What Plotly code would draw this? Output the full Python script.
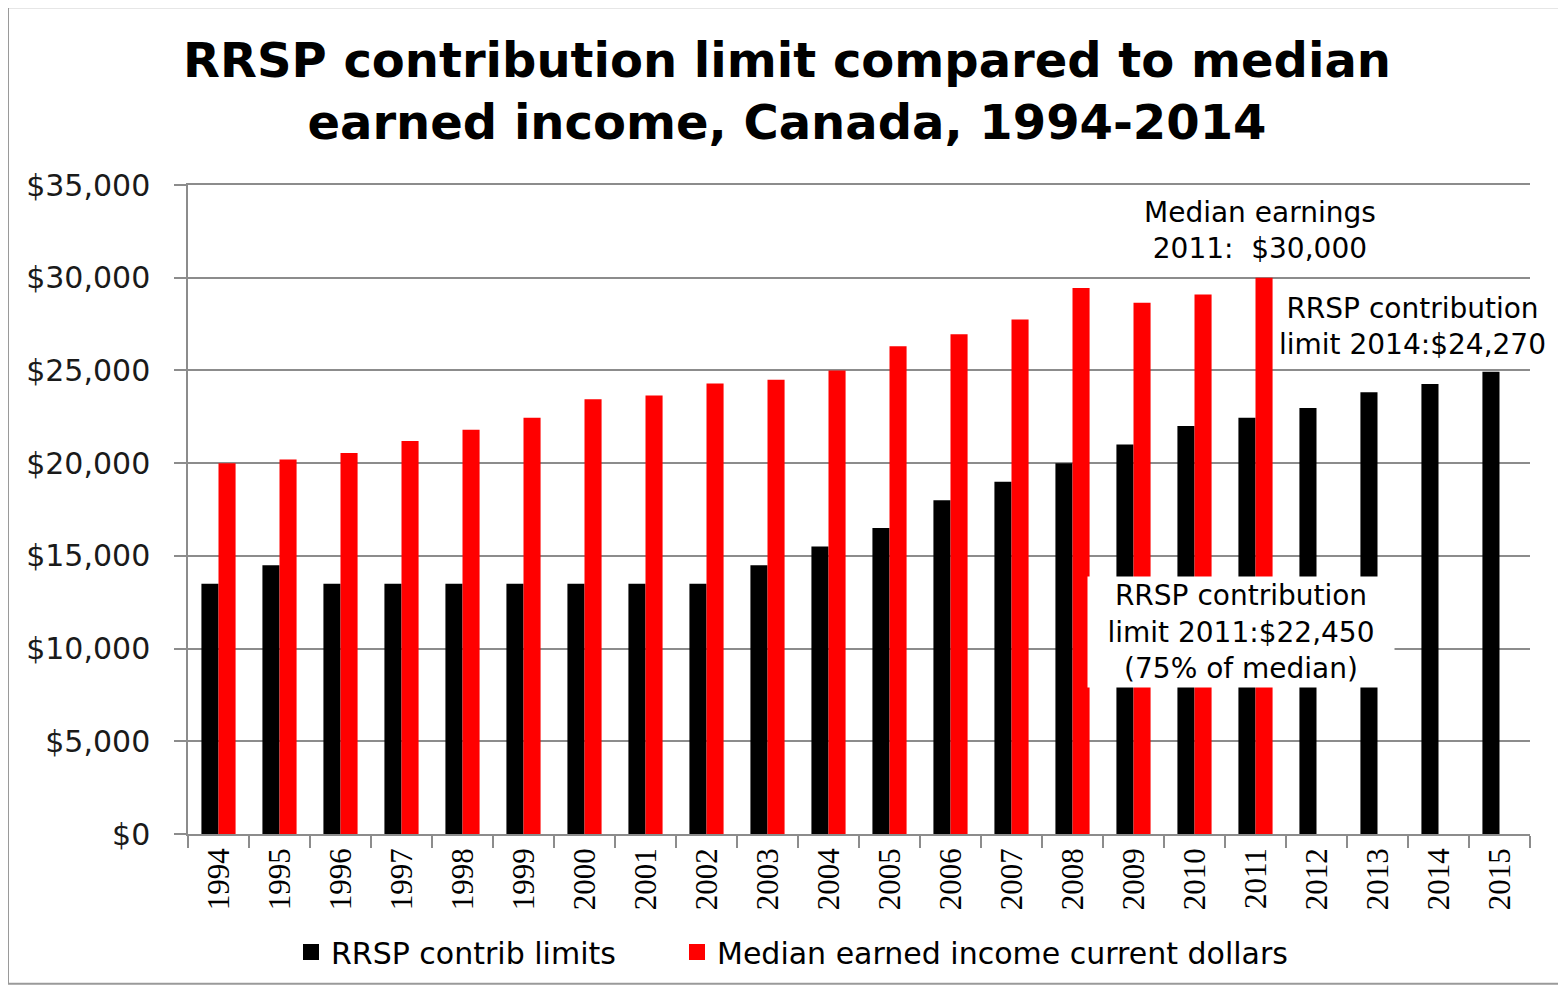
import plotly.graph_objects as go

years = [str(y) for y in range(1994, 2016)]
rrsp_limits = [13500, 14500, 13500, 13500, 13500, 13500, 13500, 13500, 13500, 14500,
               15500, 16500, 18000, 19000, 20000, 21000, 22000, 22450, 22970, 23820,
               24270, 24930]
median_years = [str(y) for y in range(1994, 2012)]
median_income = [20000, 20200, 20550, 21200, 21800, 22450, 23450, 23650, 24300, 24500,
                 25000, 26300, 26950, 27750, 29450, 28650, 29100, 30000]

series_names = ["RRSP contrib limits", "Median earned income current dollars"]
series_colors = ["#000000", "#ff0000"]

title_text = "RRSP contribution limit compared to median<br>earned income, Canada, 1994-2014"
ann_median = "Median earnings<br>2011:  $30,000"
ann_2014 = "RRSP contribution<br>limit 2014:$24,270"
ann_2011 = "RRSP contribution<br>limit 2011:$22,450<br>(75% of median)"

# page body has an 8px margin: work in reference pixels, shifted by OFF
OFF = 8
W, H = 1566 - OFF, 989 - OFF
L, R, T, B = 188 - OFF, 1530 - OFF, 185 - OFF, 835 - OFF
pw, ph = R - L, B - T


def px(x):
    return (x - OFF - L) / pw


def py(y):
    return (B - (y - OFF)) / ph


fig = go.Figure()
fig.add_trace(go.Bar(x=years, y=rrsp_limits, name=series_names[0], showlegend=False,
                     marker=dict(color=series_colors[0], line=dict(width=0))))
fig.add_trace(go.Bar(x=median_years, y=median_income, name=series_names[1], showlegend=False,
                     marker=dict(color=series_colors[1], line=dict(width=0))))
# legend entries with larger square swatches, one legend box per entry
legend_ids = ["legend", "legend2"]
for nm, col, lg in zip(series_names, series_colors, legend_ids):
    fig.add_trace(go.Scatter(x=[None], y=[None], mode="markers", name=nm, legend=lg,
                             marker=dict(symbol="square", size=17, color=col)))

legend_style = dict(orientation="h", xanchor="left", y=py(952), yanchor="middle",
                    font=dict(family="DejaVu Sans", size=30, color="#000000"),
                    bgcolor="rgba(0,0,0,0)")

fig.update_layout(
    width=W, height=H,
    margin=dict(l=L, r=W - R, t=T, b=H - B, pad=0),
    paper_bgcolor="white", plot_bgcolor="white",
    font=dict(family="DejaVu Sans", color="#000000"),
    barmode="group", bargap=0.44, bargroupgap=0,
    showlegend=True,
    legend=dict(x=px(291), **legend_style),
    legend2=dict(x=px(677), **legend_style),
)

fig.update_yaxes(range=[0, 35000], dtick=5000, tickprefix="$", tickformat=",",
                 showgrid=True, gridcolor="#8c8c8c", gridwidth=1.5,
                 showline=True, linecolor="#8c8c8c", linewidth=1.5,
                 ticks="outside", ticklen=12, tickcolor="#8c8c8c", tickwidth=1.5,
                 ticklabelstandoff=18,
                 tickfont=dict(family="DejaVu Sans", size=30, color="#1a1a1a"),
                 zeroline=False)
fig.update_xaxes(type="category", categoryorder="array", categoryarray=years,
                 showline=True, mirror=True, linecolor="#8c8c8c", linewidth=1.5,
                 ticks="outside", ticklen=12, tickcolor="#8c8c8c", tickwidth=1.5,
                 tickson="boundaries", tickangle=-90,
                 tickfont=dict(family="Liberation Serif", size=31, color="#000000"),
                 showgrid=False)

fig.add_annotation(xref="paper", yref="paper", x=px(787), y=py(91),
                   text=title_text, showarrow=False, xanchor="center", yanchor="middle",
                   font=dict(family="DejaVu Sans", size=48, color="#000000", weight="bold"))
fig.add_annotation(xref="paper", yref="paper", x=px(1260), y=py(231),
                   text=ann_median, showarrow=False, xanchor="center", yanchor="middle",
                   font=dict(family="DejaVu Sans", size=28, color="#000000"))
fig.add_annotation(xref="paper", yref="paper", x=px(1412), y=py(327),
                   text=ann_2014, showarrow=False, xanchor="center", yanchor="middle",
                   font=dict(family="DejaVu Sans", size=28, color="#000000"))
fig.add_annotation(xref="paper", yref="paper", x=px(1241), y=py(633),
                   text=ann_2011, showarrow=False, xanchor="center", yanchor="middle",
                   width=300, height=104, bgcolor="white", borderpad=3,
                   font=dict(family="DejaVu Sans", size=28, color="#000000"))

fig.add_shape(type="rect", xref="paper", yref="paper",
              x0=px(8), x1=px(1562), y0=py(985), y1=py(7),
              line=dict(color="#9a9a9a", width=2), fillcolor="rgba(0,0,0,0)")

fig.write_html("out.html")
